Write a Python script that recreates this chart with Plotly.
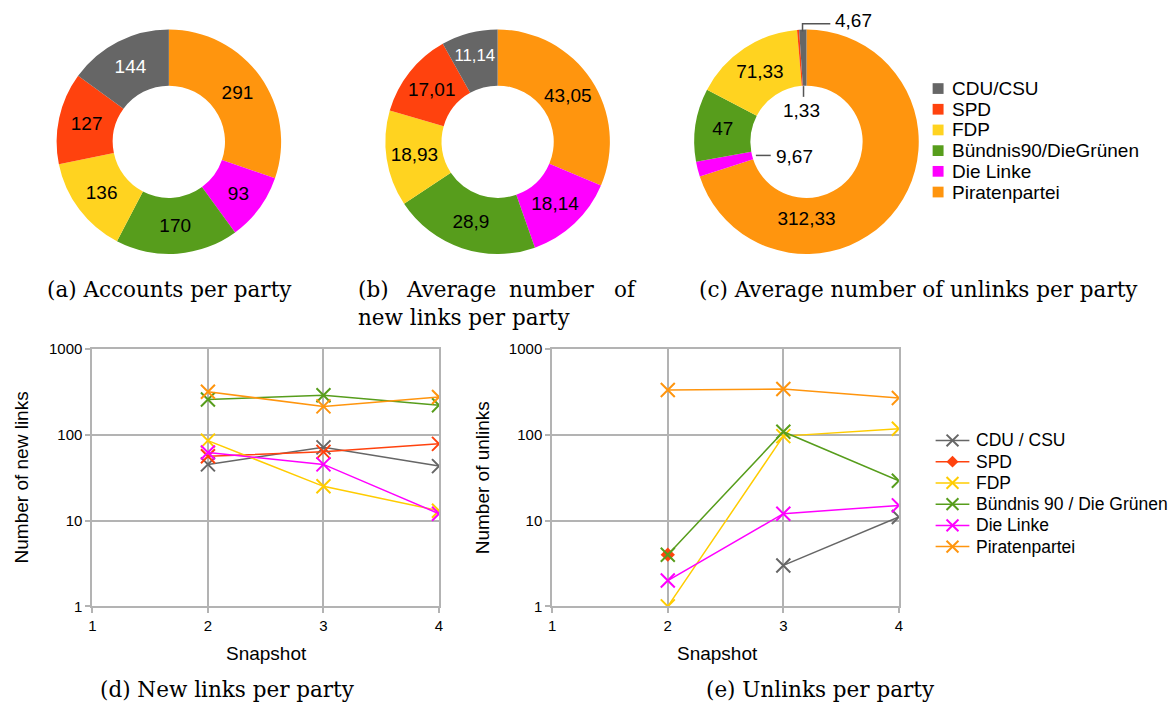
import plotly.graph_objects as go

W, H = 1175, 713

# Parties (legend order) and colours
parties = ["CDU/CSU", "SPD", "FDP", "Bündnis90/DieGrünen", "Die Linke", "Piratenpartei"]
line_names = ["CDU / CSU", "SPD", "FDP", "Bündnis 90 / Die Grünen", "Die Linke", "Piratenpartei"]
colors = ["#666666", "#ff420e", "#ffd320", "#579d1c", "#ff00ff", "#ff950e"]
line_colors = ["#666666", "#ff420e", "#ffcc00", "#579d1c", "#ff00ff", "#ff950e"]

# Donut values
accounts = [144, 127, 136, 170, 93, 291]
avg_new_links = [11.14, 17.01, 18.93, 28.9, 18.14, 43.05]
avg_unlinks = [4.67, 1.33, 71.33, 47, 9.67, 312.33]

# Line charts: snapshots and values per party (None = no value)
snapshots = [2, 3, 4]
new_links = {
    "CDU / CSU": [45, 71, 43],
    "SPD": [56, 63, 78],
    "FDP": [85, 25, 13],
    "Bündnis 90 / Die Grünen": [256, 287, 220],
    "Die Linke": [62, 45, 12],
    "Piratenpartei": [315, 213, 274],
}
unlinks = {
    "CDU / CSU": [None, 3, 11],
    "SPD": [4, None, None],
    "FDP": [1, 96, 117],
    "Bündnis 90 / Die Grünen": [4, 108, 29],
    "Die Linke": [2, 12, 15],
    "Piratenpartei": [330, 340, 267],
}
x_ticks = [1, 2, 3, 4]
y_ticks = [1, 10, 100, 1000]
y_ticktext = ["1", "10", "100", "1000"]

SANS = "Liberation Sans, Arial, sans-serif"
SERIF = "DejaVu Serif, serif"


def px(x):
    return x / W


def py(y):
    return 1 - y / H


def fmt(v):
    return f"{v:g}".replace(".", ",")


fig = go.Figure()

# ---- Donuts ----
# Slices run clockwise from 12 o'clock in reverse party order, so the
# CDU/CSU slice ends up just left of the top.
label_colors = ["white", "black", "black", "black", "black", "black"]
pie_specs = [
    (accounts, (51, 281), ["inside"] * 6),
    (avg_new_links, (382, 612), ["inside"] * 6),
    (avg_unlinks, (693, 923), ["none", "none", "inside", "inside", "none", "inside"]),
]
for vals, (x0, x1), tpos in pie_specs:
    fig.add_trace(go.Pie(
        labels=parties[::-1],
        values=vals[::-1],
        text=[fmt(v) for v in vals][::-1],
        textinfo="text",
        textposition=tpos[::-1],
        insidetextorientation="horizontal",
        textfont=dict(family=SANS, size=19, color=label_colors[::-1]),
        marker=dict(colors=colors[::-1], line=dict(width=0)),
        hole=0.5,
        sort=False,
        direction="clockwise",
        rotation=0,
        domain=dict(x=[px(x0), px(x1)], y=[py(251), py(21)]),
        showlegend=False,
        hoverinfo="label+value",
    ))

# ---- Line charts ----
def x_marker(col):
    return dict(symbol="x-thin", size=14, color=col, line=dict(width=2, color=col))


for name, col in zip(line_names, line_colors):
    fig.add_trace(go.Scatter(
        x=snapshots, y=new_links[name], name=name, mode="lines+markers",
        line=dict(color=col, width=1.5), marker=x_marker(col),
        xaxis="x", yaxis="y", showlegend=False,
    ))
for name, col in zip(line_names, line_colors):
    if name == "SPD":
        marker = dict(symbol="diamond", size=11, color=col, line=dict(width=0))
    else:
        marker = x_marker(col)
    fig.add_trace(go.Scatter(
        x=snapshots, y=unlinks[name], name=name, mode="lines+markers",
        line=dict(color=col, width=1.5), marker=marker,
        xaxis="x2", yaxis="y2", showlegend=False, connectgaps=False,
    ))

axis_common = dict(
    showgrid=True, gridcolor="#b3b3b3", gridwidth=2,
    showline=True, linecolor="#b3b3b3", linewidth=2, mirror=True,
    ticks="outside", ticklen=5, tickwidth=2, tickcolor="#b3b3b3",
    tickfont=dict(family=SANS, size=15, color="black"),
    zeroline=False, fixedrange=True,
)
xa = dict(axis_common, range=[1, 4], tickvals=x_ticks)
ya = dict(axis_common, type="log", range=[0, 3], tickvals=y_ticks, ticktext=y_ticktext)

fig.update_layout(
    xaxis=dict(xa, domain=[px(89), px(438)], anchor="y"),
    yaxis=dict(ya, domain=[py(612), py(348)], anchor="x"),
    xaxis2=dict(xa, domain=[px(552), px(901)], anchor="y2"),
    yaxis2=dict(ya, domain=[py(612), py(348)], anchor="x2"),
)

ann = []
shapes = []


def text(x, y, s, size=19, family=SANS, anchor="center", angle=0):
    ann.append(dict(x=px(x), y=py(y), xref="paper", yref="paper", text=s,
                    showarrow=False, xanchor=anchor, yanchor="middle", textangle=angle,
                    font=dict(family=family, size=size, color="black")))


def seg(x0, y0, x1, y1, color, width):
    shapes.append(dict(type="line", xref="paper", yref="paper",
                       x0=px(x0), y0=py(y0), x1=px(x1), y1=py(y1),
                       line=dict(color=color, width=width)))


# ---- Legend for the donuts ----
for i, (name, col) in enumerate(zip(parties, colors)):
    yc = 81.5 + i * 21.2
    shapes.append(dict(type="rect", xref="paper", yref="paper",
                       x0=px(935), x1=px(946), y0=py(yc + 5.5), y1=py(yc - 5.5),
                       fillcolor=col, line=dict(width=0)))
    text(952, yc, name, 19, SANS, "left")

# ---- Legend for the line charts ----
for i, (name, col) in enumerate(zip(line_names, line_colors)):
    yc = 442 + i * 21.75
    seg(938, yc, 972, yc, col, 1.5)
    xm = 955
    if name == "SPD":
        shapes.append(dict(type="path", xref="paper", yref="paper",
                           path=(f"M {px(xm - 6)} {py(yc)} L {px(xm)} {py(yc - 6)} "
                                 f"L {px(xm + 6)} {py(yc)} L {px(xm)} {py(yc + 6)} Z"),
                           fillcolor=col, line=dict(width=0)))
    else:
        seg(xm - 6, yc - 6, xm + 6, yc + 6, col, 2)
        seg(xm - 6, yc + 6, xm + 6, yc - 6, col, 2)
    text(977, yc, name, 17.5, SANS, "left")

# ---- Axis titles and captions ----
text(18, 480, "Number of new links", angle=-90)
text(264, 660, "Snapshot")
text(482, 480, "Number of unlinks", angle=-90)
text(718, 660, "Snapshot")

CAP = 21.5
text(41, 287, "(a) Accounts per party", CAP, SERIF, "left")
text(354, 287, "(b)", CAP, SERIF, "left")
text(403, 287, "Average", CAP, SERIF, "left")
text(506, 287, "number", CAP, SERIF, "left")
text(639, 287, "of", CAP, SERIF, "right")
text(354, 316, "new links per party", CAP, SERIF, "left")
text(698, 287, "(c) Average number of unlinks per party", CAP, SERIF, "left")
text(95, 697, "(d) New links per party", CAP, SERIF, "left")
text(705, 697, "(e) Unlinks per party", CAP, SERIF, "left")

# Labels for the thin slices of the unlinks donut, with leader lines
text(835, 12, fmt(avg_unlinks[0]), 19, SANS, "left")
text(803, 104, fmt(avg_unlinks[1]), 19, SANS, "center")
text(775, 151, fmt(avg_unlinks[4]), 19, SANS, "left")

lc = dict(color="#555555", width=1.5)
shapes.append(dict(type="path", xref="paper", yref="paper",
                   path=f"M {px(804)} {py(23)} L {px(804)} {py(15)} L {px(832)} {py(15)}", line=lc))
seg(805, 79, 805, 90, "#555555", 1.5)
seg(757, 150, 772, 150, "#555555", 1.5)

fig.update_layout(
    width=W, height=H, margin=dict(l=0, r=0, t=0, b=0),
    paper_bgcolor="white", plot_bgcolor="white",
    annotations=ann, shapes=shapes, showlegend=False,
    font=dict(family=SANS, color="black"),
)

fig.write_html("out.html")
